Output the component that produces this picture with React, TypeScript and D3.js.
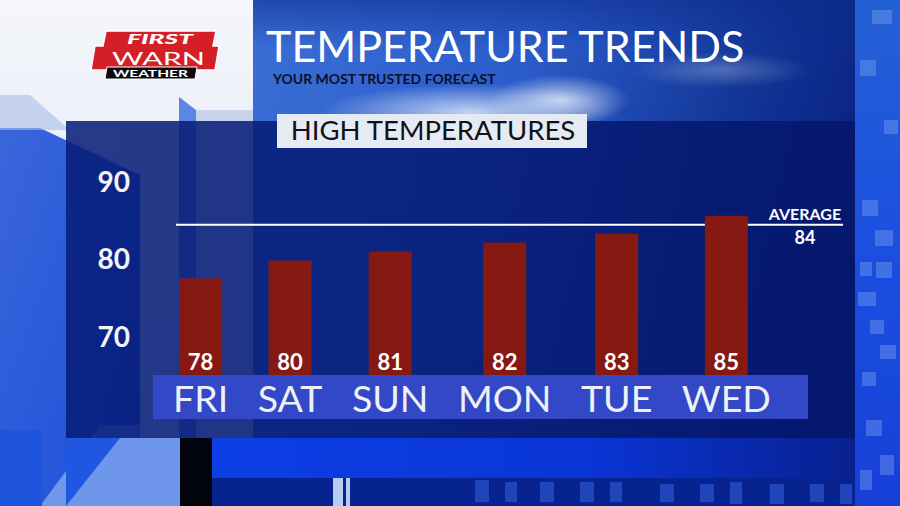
import React, { useMemo } from "react";
import * as d3 from "d3";

// ---- data ----
const days = ["FRI", "SAT", "SUN", "MON", "TUE", "WED"];
const highs = [78, 80, 81, 82, 83, 85];
const axisTicks = [70, 80, 90];
const averageHigh = 84;
const averageLabel = "AVERAGE";
const title = "TEMPERATURE TRENDS";
const subtitle = "YOUR MOST TRUSTED FORECAST";
const panelTitle = "HIGH TEMPERATURES";
const logoTop = "FIRST";
const logoMid = "WARN";
const logoBottom = "WEATHER";

const W = 900;
const H = 506;
const FONT = "Lato, 'Open Sans', sans-serif";

const DAY_FONT = 37.5;
const DAY_GAP = 29.5;
const DAY_START = 173;
const BAND_TOP = 375;
const BAND_BOTTOM = 419;
const BAR_W = 43;

export default function App() {
  const layout = useMemo(() => {
    const canvas = document.createElement("canvas");
    const ctx = canvas.getContext("2d") as CanvasRenderingContext2D;
    ctx.font = `400 ${DAY_FONT}px Lato`;
    let x = DAY_START;
    return days.map((d) => {
      const w = ctx.measureText(d).width;
      const c = x + w / 2;
      x += w + DAY_GAP;
      return { d, w, c };
    });
  }, []);

  const xCenter = d3
    .scaleOrdinal<string, number>()
    .domain(days)
    .range(layout.map((l) => l.c));

  const y = d3.scaleLinear().domain([70, 90]).range([350, 171]);
  const yTick = d3.scaleLinear().domain([70, 90]).range([336.5, 182]);

  const avgY = y(averageHigh);

  return (
    <svg
      width={W}
      height={H}
      viewBox={`0 0 ${W} ${H}`}
      style={{ position: "absolute", left: 0, top: 0, display: "block" }}
    >
      <defs>
        <linearGradient id="leftLight" x1="0" y1="0" x2="0" y2="1">
          <stop offset="0" stopColor="#f4f6fb" />
          <stop offset="0.5" stopColor="#e6ebf5" />
          <stop offset="1" stopColor="#d2dcf0" />
        </linearGradient>
        <linearGradient id="sky" x1="0" y1="0" x2="1" y2="0.3">
          <stop offset="0" stopColor="#3a6fd6" />
          <stop offset="0.45" stopColor="#2b5ccb" />
          <stop offset="0.8" stopColor="#123596" />
          <stop offset="1" stopColor="#0a2384" />
        </linearGradient>
        <radialGradient id="cloud" cx="0.5" cy="0.5" r="0.5">
          <stop offset="0" stopColor="#dbe6f8" stopOpacity="0.85" />
          <stop offset="1" stopColor="#dbe6f8" stopOpacity="0" />
        </radialGradient>
        <linearGradient id="skyTop" x1="0" y1="0" x2="0" y2="1">
          <stop offset="0" stopColor="#0c2a8a" stopOpacity="0.55" />
          <stop offset="0.4" stopColor="#0c2a8a" stopOpacity="0" />
        </linearGradient>
        <linearGradient id="leftBlue" x1="0" y1="0" x2="1" y2="1">
          <stop offset="0" stopColor="#3a66dc" />
          <stop offset="1" stopColor="#1c4fd8" />
        </linearGradient>
        <linearGradient id="rightStrip" x1="0" y1="0" x2="0" y2="1">
          <stop offset="0" stopColor="#2460d4" />
          <stop offset="0.5" stopColor="#1b4fe0" />
          <stop offset="1" stopColor="#1640d8" />
        </linearGradient>
        <linearGradient id="bottomGlow" x1="0" y1="0" x2="1" y2="0">
          <stop offset="0" stopColor="#0d3fe6" />
          <stop offset="0.6" stopColor="#0a35d4" />
          <stop offset="1" stopColor="#08208f" />
        </linearGradient>
        <linearGradient id="panelFill" x1="0" y1="0" x2="1" y2="0">
          <stop offset="0" stopColor="#061c78" />
          <stop offset="0.5" stopColor="#051a74" />
          <stop offset="1" stopColor="#04166a" />
        </linearGradient>
      </defs>

      {/* ---------- background ---------- */}
      <rect x={0} y={0} width={W} height={H} fill="url(#leftLight)" />
      {/* left blue shapes */}
      <polygon points="0,128 40,128 140,175 140,506 0,506" fill="url(#leftBlue)" />
      <polygon points="0,95 30,95 70,130 0,130" fill="#a9bde9" opacity={0.6} />
      <polygon points="40,506 100,425 140,425 140,506" fill="#6f97ea" />
      <rect x={0} y={430} width={42} height={76} fill="#1e55dc" />
      {/* vertical light strip */}
      <polygon points="179,97 196,110 196,506 179,506" fill="#5b86e2" />
      <rect x={196} y={110} width={57} height={396} fill="#c8d4ee" />
      {/* center sky */}
      <rect x={253} y={0} width={602} height={506} fill="url(#sky)" />
      <ellipse cx={470} cy={112} rx={150} ry={28} fill="url(#cloud)" />
      <ellipse cx={560} cy={100} rx={70} ry={25} fill="url(#cloud)" />
      <ellipse cx={720} cy={70} rx={90} ry={18} fill="url(#cloud)" opacity={0.35} />
      <rect x={253} y={0} width={602} height={121} fill="url(#skyTop)" />
      {/* right strip */}
      <rect x={855} y={0} width={45} height={H} fill="url(#rightStrip)" />
      {[
        [862, 200, 16, 16], [875, 230, 18, 16], [860, 262, 12, 14], [876, 262, 16, 16],
        [858, 292, 18, 14], [870, 320, 14, 14], [880, 345, 16, 14], [862, 372, 14, 14],
        [872, 10, 20, 14], [860, 60, 16, 16], [884, 120, 14, 14], [866, 420, 16, 16],
        [880, 455, 14, 20], [860, 470, 12, 20],
      ].map(([rx, ry, rw, rh], i) => (
        <rect key={i} x={rx} y={ry} width={rw} height={rh} fill="#7fa4ef" opacity={0.4} />
      ))}
      {/* bottom area */}
      <rect x={212} y={438} width={643} height={40} fill="url(#bottomGlow)" />
      <rect x={212} y={478} width={643} height={28} fill="#07238f" />
      {[
        [475, 480, 14, 22], [505, 482, 12, 20], [540, 482, 14, 20], [580, 482, 14, 20],
        [610, 482, 12, 20], [660, 484, 14, 18], [700, 484, 14, 18], [730, 482, 12, 22],
        [770, 484, 14, 20], [810, 484, 14, 18], [840, 484, 12, 20],
      ].map(([rx, ry, rw, rh], i) => (
        <rect key={"b" + i} x={rx} y={ry} width={rw} height={rh} fill="#3a66e6" opacity={0.5} />
      ))}
      <rect x={333} y={478} width={10} height={28} fill="#b4cdf0" />
      <rect x={346} y={478} width={4} height={28} fill="#b4cdf0" />
      <rect x={180} y={438} width={32} height={68} fill="#02040c" />
      <rect x={66} y={438} width={114} height={68} fill="#1f57e0" />
      <polygon points="66,506 120,438 180,438 180,506" fill="#82a7ee" opacity={0.8} />

      {/* ---------- chart panel ---------- */}
      <rect x={66} y={121} width={789} height={317} fill="url(#panelFill)" opacity={0.86} />

      {/* panel title */}
      <rect x={277} y={114} width={310} height={34} fill="#e6eaf2" />
      <text
        x={433}
        y={140}
        textAnchor="middle"
        fontFamily={FONT}
        fontSize={27.5}
        fill="#101218"
      >
        {panelTitle}
      </text>

      {/* y-axis tick labels */}
      {axisTicks.map((t) => (
        <text
          key={t}
          x={130}
          y={yTick(t)}
          dy="0.36em"
          textAnchor="end"
          fontFamily={FONT}
          fontWeight={700}
          fontSize={28}
          fill="#f2f4fa"
        >
          {t}
        </text>
      ))}

      {/* average line (behind bars) */}
      <line x1={176} x2={843} y1={avgY} y2={avgY} stroke="#ffffff" strokeWidth={2} />
      <text
        x={805}
        y={220}
        textAnchor="middle"
        fontFamily={FONT}
        fontWeight={700}
        fontSize={16}
        fill="#ffffff"
      >
        {averageLabel}
      </text>
      <text
        x={805}
        y={244}
        textAnchor="middle"
        fontFamily={FONT}
        fontWeight={700}
        fontSize={18}
        fill="#ffffff"
      >
        {averageHigh}
      </text>

      {/* bars */}
      {days.map((d, i) => (
        <rect
          key={d}
          x={xCenter(d) - BAR_W / 2}
          y={y(highs[i])}
          width={BAR_W}
          height={BAND_TOP - y(highs[i])}
          fill="#861912"
        />
      ))}
      {days.map((d, i) => (
        <text
          key={"v" + d}
          x={xCenter(d)}
          y={370}
          textAnchor="middle"
          fontFamily={FONT}
          fontWeight={700}
          fontSize={22}
          fill="#ffffff"
        >
          {highs[i]}
        </text>
      ))}

      {/* day band */}
      <rect x={153} y={BAND_TOP} width={655} height={BAND_BOTTOM - BAND_TOP} fill="#3248c6" />
      {layout.map((l) => (
        <text
          key={"d" + l.d}
          x={l.c}
          y={412}
          textAnchor="middle"
          fontFamily={FONT}
          fontSize={DAY_FONT}
          fill="#eef0fa"
        >
          {l.d}
        </text>
      ))}

      {/* ---------- header ---------- */}
      <text x={266} y={62} fontFamily={FONT} fontSize={43} fill="#ffffff">
        {title}
      </text>
      <text x={273} y={84} fontFamily={FONT} fontWeight={700} fontSize={14} fill="#0b1026">
        {subtitle}
      </text>

      {/* logo */}
      <g>
        <polygon
          points="106,31 216,31 213,46 219,46 215,70 91,70 95,46 103,46"
          fill="#d51f26"
          stroke="#ffffff"
          strokeWidth={1.5}
        />
        <polygon points="107,67 197,67 195,79 105,79" fill="#0b0b0f" stroke="#ffffff" strokeWidth={1} />
        <text x={127} y={44} fontFamily={FONT} fontWeight={900} fontStyle="italic" fontSize={12.5} fill="#ffffff" textLength={66} lengthAdjust="spacingAndGlyphs">
          {logoTop}
        </text>
        <text x={112} y={64.5} fontFamily={FONT} fontWeight={400} fontSize={18} fill="#ffffff" textLength={93} lengthAdjust="spacingAndGlyphs">
          {logoMid}
        </text>
        <text x={113} y={77} fontFamily={FONT} fontWeight={700} fontSize={8.5} fill="#ffffff" textLength={75} lengthAdjust="spacingAndGlyphs">
          {logoBottom}
        </text>
      </g>
    </svg>
  );
}
